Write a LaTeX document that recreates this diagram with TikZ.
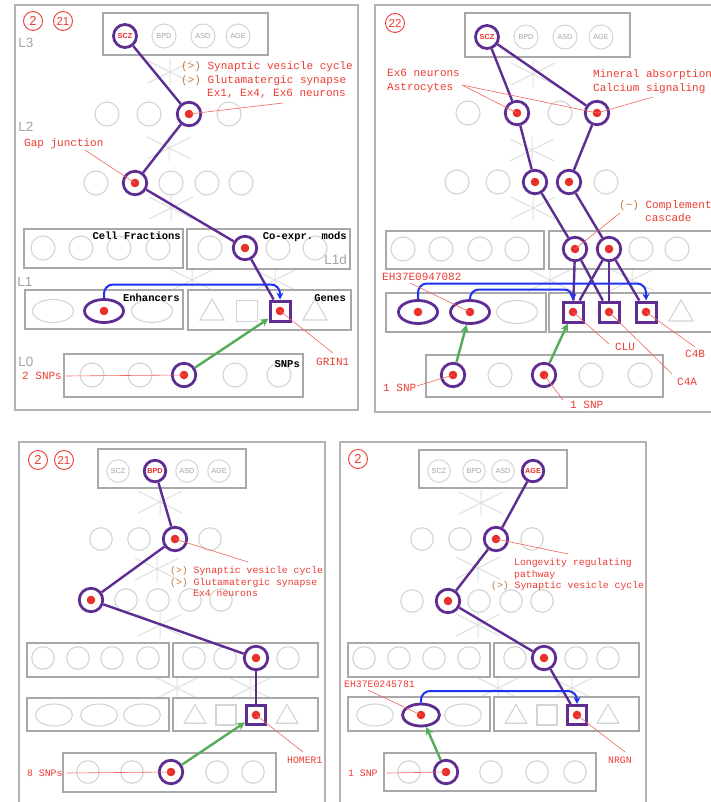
\documentclass[tikz,border=0pt]{standalone}
\usepackage{fontspec}
\usetikzlibrary{shapes.geometric,arrows.meta}
\newfontfamily\lmono{Liberation Mono}
\newfontfamily\lsans{Liberation Sans}
\definecolor{vio}{HTML}{5E2D91}
\definecolor{dotred}{HTML}{E8302A}
\definecolor{tred}{HTML}{EE3B33}
\definecolor{lred}{HTML}{F2665F}
\definecolor{orng}{HTML}{C77A3E}
\definecolor{cgray}{HTML}{D4D4D4}
\definecolor{bgray}{HTML}{A8A8A8}
\definecolor{fgray}{HTML}{B4B4B4}
\definecolor{tgray}{HTML}{A4A4A4}
\definecolor{xgray}{HTML}{E0E0E0}
\definecolor{bblue}{HTML}{1E32F0}
\definecolor{ggreen}{HTML}{55AD5A}
\tikzset{
 fr/.style={draw=fgray, line width=1.5pt},
 bx/.style={draw=bgray, line width=1.7pt, fill=white},
 xl/.style={draw=xgray, line width=1pt},
 ast/.pic={\draw[xl] (-22,-11)--(22,11) (-22,11)--(22,-11) (0,-13)--(0,13);},
 gc/.style={circle, draw=cgray, line width=1.1pt, minimum size=24pt, inner sep=0pt},
 dotp/.style={path picture={\fill[dotred] (path picture bounding box.center) circle (4.3pt);}},
 hc/.style={circle, draw=vio, line width=2.8pt, minimum size=23.5pt, inner sep=0pt, dotp},
 ge/.style={ellipse, draw=cgray, line width=1.1pt, minimum width=41pt, minimum height=23pt, inner sep=0pt},
 he/.style={ellipse, draw=vio, line width=2.8pt, minimum width=39pt, minimum height=23pt, inner sep=0pt, dotp},
 gs/.style={rectangle, draw=cgray, line width=1.1pt, minimum size=21pt, inner sep=0pt},
 hs/.style={rectangle, draw=vio, line width=3pt, minimum size=20pt, inner sep=0pt, dotp},
 gt/.style={regular polygon, regular polygon sides=3, draw=cgray, line width=1.1pt, minimum size=28pt, inner sep=0pt},
 tc/.style={circle, draw=cgray, line width=1pt, minimum size=24pt, inner sep=0pt, text=tgray, font=\lsans\fontsize{7.3}{8}\selectfont},
 tch/.style={circle, draw=vio, line width=2.8pt, minimum size=23pt, inner sep=0pt, text=dotred, font=\lsans\bfseries\fontsize{7.3}{8}\selectfont},
 pl/.style={draw=vio, line width=2.4pt},
 bl/.style={draw=bblue, line width=2pt, rounded corners=9pt, -{Stealth[length=7pt,width=7pt,inset=2.5pt]}},
 gl/.style={draw=ggreen, line width=2.4pt, -{Stealth[length=8pt,width=8pt,inset=2.5pt]}},
 an/.style={draw=lred, line width=0.6pt},
 lab/.style={anchor=base west, inner sep=0pt, text=tred, font=\lmono\fontsize{11}{13}\selectfont},
 labs/.style={anchor=base west, inner sep=0pt, text=tred, font=\lmono\fontsize{9.8}{11}\selectfont},
 hdr/.style={anchor=base east, inner sep=0pt, font=\lmono\bfseries\fontsize{10.5}{12}\selectfont},
 lvl/.style={inner sep=0pt, text=tgray, font=\lsans\fontsize{13.5}{14}\selectfont},
 cn/.style={circle, draw=tred, line width=0.9pt, minimum size=19pt, inner sep=0pt, text=tred, font=\lsans\fontsize{13}{13}\selectfont},
 cnn/.style={cn, font=\lsans\fontsize{11.5}{12}\selectfont},
 small/.style={gc/.append style={minimum size=22.5pt}, tc/.append style={minimum size=22.5pt}, tch/.append style={minimum size=21.5pt},
   ge/.append style={minimum width=37pt, minimum height=22pt}, he/.append style={minimum width=37pt, minimum height=22pt},
   gt/.append style={minimum size=25pt}, gs/.append style={minimum size=20pt}, hs/.append style={minimum size=19pt}},
}
\begin{document}
\begin{tikzpicture}[x=1pt,y=-1pt]
\useasboundingbox (0,0) rectangle (711,802);
\clip (0,0) rectangle (711,802);
\fill[white] (0,0) rectangle (711,802);

% ================= Panel 1 =================
\draw[fr] (15,5) rectangle (358,410);
\node[cn] (a-n2) at (33,21) {2};
\node[cnn] (a-n21) at (63,21) {21};
\pic at (170,72) {ast}; \pic at (169,148) {ast}; \pic at (171,208) {ast};
\pic at (192,280) {ast}; \pic at (275,280) {ast};
\draw[bx] (103,13) rectangle (268,55);
\node[tch] (a-scz) at (125,36) {SCZ};
\node[tc] (a-bpd) at (164,36) {BPD};
\node[tc] (a-asd) at (203,36) {ASD};
\node[tc] (a-age) at (238,36) {AGE};
\node[lvl] (a-L3) at (26,43) {L3};
\node[gc] (a-u1) at (107,114) {};
\node[gc] (a-u2) at (149,114) {};
\node[hc] (a-u3) at (189,114) {};
\node[gc] (a-u4) at (229,114) {};
\node[lvl] (a-L2) at (26,127) {L2};
\node[gc] (a-l1) at (96,183) {};
\node[hc] (a-l2) at (135,183) {};
\node[gc] (a-l3) at (171,183) {};
\node[gc] (a-l4) at (207,183) {};
\node[gc] (a-l5) at (241,183) {};
\draw[bx] (24,229) rectangle (183,268);
\draw[bx] (187,229) rectangle (350,269);
\node[gc] (a-c1) at (43,248) {};
\node[gc] (a-c2) at (81,248) {};
\node[gc] (a-c3) at (119,248) {};
\node[gc] (a-c4) at (158,248) {};
\node[gc] (a-c5) at (210,248) {};
\node[hc] (a-c6) at (245,248) {};
\node[gc] (a-c7) at (278,248) {};
\node[gc] (a-c8) at (315,248) {};
\node[hdr] (a-h1) at (181,240) {Cell Fractions};
\node[hdr] (a-h2) at (347,240) {Co-expr. mods};
\node[lvl,anchor=east] (a-L1d) at (347,260) {L1d};
\node[lvl] (a-L1) at (25,282) {L1};
\draw[bx] (25,290) rectangle (183,329);
\draw[bx] (188,290) rectangle (351,330);
\node[ge] (a-e1) at (53,311) {};
\node[he] (a-e2) at (104,311) {};
\node[ge] (a-e3) at (152,311) {};
\node[gt] (a-g1) at (212,313) {};
\node[gs] (a-g2) at (247,311) {};
\node[hs] (a-g3) at (280,311) {};
\node[gt] (a-g4) at (315,313) {};
\node[hdr] (a-h3) at (180,301) {Enhancers};
\node[hdr] (a-h4) at (346,301) {Genes};
\node[lvl] (a-L0) at (26,362) {L0};
\draw[bx] (64,354) rectangle (303,397);
\node[gc] (a-s1) at (92,375) {};
\node[gc] (a-s2) at (140,375) {};
\node[hc] (a-s3) at (184,375) {};
\node[gc] (a-s4) at (235,375) {};
\node[gc] (a-s5) at (279,375) {};
\node[hdr] (a-h5) at (300,367) {SNPs};
\draw[pl] (a-scz) -- (a-u3);
\draw[pl] (a-u3) -- (a-l2);
\draw[pl] (a-l2) -- (a-c6);
\draw[pl] (a-c6) -- (a-g3);
\draw[bl] (a-e2.north) |- ([yshift=15pt]a-g3.north) -- (a-g3.north);
\draw[gl] (a-s3) -- (a-g3);
\node[lab] (a-t1) at (181,69.5) {\textcolor{orng}{(>)} Synaptic vesicle cycle};
\node[lab] (a-t2) at (181,83.5) {\textcolor{orng}{(>)} Glutamatergic synapse};
\node[lab] (a-t3) at (207,96.5) {Ex1, Ex4, Ex6 neurons};
\node[lab] (a-t4) at (24,146.5) {Gap junction};
\node[lab] (a-t5) at (22,379.5) {2 SNPs};
\node[lab] (a-t6) at (316,365.5) {GRIN1};
\coordinate (a-k1) at (283,103);
\coordinate (a-k2) at (85,150);
\coordinate (a-k3) at (66,376);
\coordinate (a-k4) at (333,353);
\draw[an] (a-u3.center) -- (a-k1);
\draw[an] (a-k2) -- (a-l2.center);
\draw[an] (a-k3) -- (a-s3.center);
\draw[an] (a-g3.center) -- (a-k4);

% ================= Panel 2 =================
\draw[fr] (375,5) rectangle (720,412);
\node[cnn] (b-n22) at (395,23) {22};
\pic at (533,74) {ast}; \pic at (532,150) {ast}; \pic at (533,208) {ast};
\pic at (550,280) {ast}; \pic at (632,280) {ast};
\draw[bx] (465,13) rectangle (630,57);
\node[tch] (b-scz) at (487,37) {SCZ};
\node[tc] (b-bpd) at (526,37) {BPD};
\node[tc] (b-asd) at (565,37) {ASD};
\node[tc] (b-age) at (601,37) {AGE};
\node[gc] (b-u1) at (468,113) {};
\node[hc] (b-u2) at (517,113) {};
\node[gc] (b-u3) at (560,113) {};
\node[hc] (b-u4) at (597,113) {};
\node[gc] (b-l1) at (457,182) {};
\node[gc] (b-l2) at (498,182) {};
\node[hc] (b-l3) at (535,182) {};
\node[hc] (b-l4) at (569,182) {};
\node[gc] (b-l5) at (606,182) {};
\draw[bx] (386,231) rectangle (544,269);
\draw[bx] (549,231) rectangle (720,269);
\node[gc] (b-c1) at (403,249) {};
\node[gc] (b-c2) at (441,249) {};
\node[gc] (b-c3) at (480,249) {};
\node[gc] (b-c4) at (517,249) {};
\node[hc] (b-c5) at (575,249) {};
\node[hc] (b-c6) at (609,249) {};
\node[gc] (b-c7) at (641,249) {};
\node[gc] (b-c8) at (677,249) {};
\draw[bx] (386,293) rectangle (546,332);
\draw[bx] (549,293) rectangle (720,332);
\node[he] (b-e1) at (418,312) {};
\node[he] (b-e2) at (470,312) {};
\node[ge] (b-e3) at (517,312) {};
\node[hs] (b-g1) at (573,312) {};
\node[hs] (b-g2) at (609,312) {};
\node[hs] (b-g3) at (646,312) {};
\node[gt] (b-g4) at (681,314) {};
\draw[bx] (426,355) rectangle (663,397);
\node[hc] (b-s1) at (453,375) {};
\node[gc] (b-s2) at (500,375) {};
\node[hc] (b-s3) at (544,375) {};
\node[gc] (b-s4) at (591,375) {};
\node[gc] (b-s5) at (640,375) {};
\draw[pl] (b-scz) -- (b-u2);
\draw[pl] (b-scz) -- (b-u4);
\draw[pl] (b-u2) -- (b-l3);
\draw[pl] (b-u4) -- (b-l4);
\draw[pl] (b-l3) -- (b-c5);
\draw[pl] (b-l4) -- (b-c6);
\draw[pl] (b-c5) -- (b-g1);
\draw[pl] (b-c5) -- (b-g2);
\draw[pl] (b-c6) -- (b-g1);
\draw[pl] (b-c6) -- (b-g2);
\draw[pl] (b-c6) -- (b-g3);
\draw[bl] (b-e1.north) |- ([yshift=17pt]b-g3.north) -- (b-g3.north);
\draw[bl] (b-e2.north) |- ([yshift=11pt]b-g1.north) -- (b-g1.north);
\draw[gl] (b-s1) -- (b-e2);
\draw[gl] (b-s3) -- (b-g1);
\node[lab] (b-t1) at (387,76.5) {Ex6 neurons};
\node[lab] (b-t2) at (387,90.5) {Astrocytes};
\node[lab] (b-t3) at (593,77.5) {Mineral absorption};
\node[lab] (b-t4) at (593,91.5) {Calcium signaling};
\node[lab] (b-t5) at (619,208.5) {\textcolor{orng}{(\textasciitilde)} Complement};
\node[lab] (b-t6) at (645,221.5) {cascade};
\node[lab] (b-t7) at (382,280.5) {EH37E0947082};
\node[lab] (b-t8) at (615,350.5) {CLU};
\node[lab] (b-t9) at (677,385.5) {C4A};
\node[lab] (b-t10) at (685,357.5) {C4B};
\node[lab] (b-t11) at (383,391.5) {1 SNP};
\node[lab] (b-t12) at (570,408.5) {1 SNP};
\coordinate (b-k1) at (462,85);
\coordinate (b-k2) at (653,97);
\coordinate (b-k3) at (620,213);
\coordinate (b-k4) at (410,283);
\coordinate (b-k5) at (609,344);
\coordinate (b-k6) at (672,374);
\coordinate (b-k7) at (695,347);
\coordinate (b-k8) at (417,386);
\coordinate (b-k9) at (563,400);
\draw[an] (b-k1) -- (b-u2.center);
\draw[an] (b-k1) -- (b-u4.center);
\draw[an] (b-k2) -- (b-u4.center);
\draw[an] (b-k3) -- (b-c5.center);
\draw[an] (b-k4) -- (b-e2.center);
\draw[an] (b-g1.center) -- (b-k5);
\draw[an] (b-g2.center) -- (b-k6);
\draw[an] (b-g3.center) -- (b-k7);
\draw[an] (b-k8) -- (b-s1.center);
\draw[an] (b-s3.center) -- (b-k9);

% ================= Panel 3 =================
\begin{scope}[small]
\draw[fr] (19,442) rectangle (325,810);
\node[cn] (c-n2) at (38,460) {2};
\node[cnn] (c-n21) at (64,460) {21};
\pic at (160,502) {ast}; \pic at (157,569) {ast}; \pic at (160,625) {ast};
\pic at (177,688) {ast}; \pic at (250,688) {ast};
\draw[bx] (98,449) rectangle (246,488);
\node[tc] (c-scz) at (118,471) {SCZ};
\node[tch] (c-bpd) at (155,471) {BPD};
\node[tc] (c-asd) at (187,471) {ASD};
\node[tc] (c-age) at (219,471) {AGE};
\node[gc] (c-u1) at (101,539) {};
\node[gc] (c-u2) at (139,539) {};
\node[hc] (c-u3) at (175,539) {};
\node[gc] (c-u4) at (210,539) {};
\node[hc] (c-l1) at (91,600) {};
\node[gc] (c-l2) at (126,600) {};
\node[gc] (c-l3) at (158,600) {};
\node[gc] (c-l4) at (190,600) {};
\node[gc] (c-l5) at (221,600) {};
\draw[bx] (27,643) rectangle (169,677);
\draw[bx] (173,643) rectangle (318,677);
\node[gc] (c-c1) at (43,658) {};
\node[gc] (c-c2) at (78,658) {};
\node[gc] (c-c3) at (112,658) {};
\node[gc] (c-c4) at (148,658) {};
\node[gc] (c-c5) at (194,658) {};
\node[gc] (c-c6) at (225,658) {};
\node[hc] (c-c7) at (256,658) {};
\node[gc] (c-c8) at (288,658) {};
\draw[bx] (27,698) rectangle (169,731);
\draw[bx] (173,698) rectangle (318,731);
\node[ge] (c-e1) at (54,715) {};
\node[ge] (c-e2) at (99,715) {};
\node[ge] (c-e3) at (142,715) {};
\node[gt] (c-g1) at (195,717) {};
\node[gs] (c-g2) at (226,715) {};
\node[hs] (c-g3) at (256,715) {};
\node[gt] (c-g4) at (287,717) {};
\draw[bx] (63,753) rectangle (276,792);
\node[gc] (c-s1) at (88,772) {};
\node[gc] (c-s2) at (132,772) {};
\node[hc] (c-s3) at (171,772) {};
\node[gc] (c-s4) at (217,772) {};
\node[gc] (c-s5) at (253,772) {};
\draw[pl] (c-bpd) -- (c-u3);
\draw[pl] (c-u3) -- (c-l1);
\draw[pl] (c-l1) -- (c-c7);
\draw[pl] (c-c7) -- (c-g3);
\draw[gl] (c-s3) -- (c-g3);
\node[labs] (c-t1) at (170,573) {\textcolor{orng}{(>)} Synaptic vesicle cycle};
\node[labs] (c-t2) at (170,585) {\textcolor{orng}{(>)} Glutamatergic synapse};
\node[labs] (c-t3) at (193,596) {Ex4 neurons};
\node[labs] (c-t4) at (287,763) {HOMER1};
\node[labs] (c-t5) at (27,776) {8 SNPs};
\coordinate (c-k1) at (248,562);
\coordinate (c-k2) at (303,752);
\coordinate (c-k3) at (67,773);
\draw[an] (c-u3.center) -- (c-k1);
\draw[an] (c-g3.center) -- (c-k2);
\draw[an] (c-k3) -- (c-s3.center);
\end{scope}

% ================= Panel 4 =================
\begin{scope}[small]
\draw[fr] (340,442) rectangle (646,810);
\node[cn] (d-n2) at (358,459) {2};
\pic at (481,503) {ast}; \pic at (478,568) {ast}; \pic at (478,625) {ast};
\pic at (498,688) {ast}; \pic at (572,688) {ast};
\draw[bx] (419,450) rectangle (567,488);
\node[tc] (d-scz) at (439,471) {SCZ};
\node[tc] (d-bpd) at (474,471) {BPD};
\node[tc] (d-asd) at (503,471) {ASD};
\node[tch] (d-age) at (533,471) {AGE};
\node[gc] (d-u1) at (422,539) {};
\node[gc] (d-u2) at (460,539) {};
\node[hc] (d-u3) at (496,539) {};
\node[gc] (d-u4) at (532,539) {};
\node[gc] (d-l1) at (412,601) {};
\node[hc] (d-l2) at (448,601) {};
\node[gc] (d-l3) at (479,601) {};
\node[gc] (d-l4) at (511,601) {};
\node[gc] (d-l5) at (542,601) {};
\draw[bx] (348,643) rectangle (490,677);
\draw[bx] (494,643) rectangle (639,677);
\node[gc] (d-c1) at (364,658) {};
\node[gc] (d-c2) at (399,658) {};
\node[gc] (d-c3) at (434,658) {};
\node[gc] (d-c4) at (469,658) {};
\node[gc] (d-c5) at (515,658) {};
\node[hc] (d-c6) at (544,658) {};
\node[gc] (d-c7) at (576,658) {};
\node[gc] (d-c8) at (608,658) {};
\draw[bx] (348,697) rectangle (490,731);
\draw[bx] (494,697) rectangle (639,731);
\node[ge] (d-e1) at (375,715) {};
\node[he] (d-e2) at (421,715) {};
\node[ge] (d-e3) at (463,715) {};
\node[gt] (d-g1) at (516,717) {};
\node[gs] (d-g2) at (547,715) {};
\node[hs] (d-g3) at (577,715) {};
\node[gt] (d-g4) at (608,717) {};
\draw[bx] (384,753) rectangle (596,791);
\node[gc] (d-s1) at (409,772) {};
\node[hc] (d-s2) at (446,772) {};
\node[gc] (d-s3) at (491,772) {};
\node[gc] (d-s4) at (537,772) {};
\node[gc] (d-s5) at (575,772) {};
\draw[pl] (d-age) -- (d-u3);
\draw[pl] (d-u3) -- (d-l2);
\draw[pl] (d-l2) -- (d-c6);
\draw[pl] (d-c6) -- (d-g3);
\draw[bl] (d-e2.north) |- ([yshift=13pt]d-g3.north) -- (d-g3.north);
\draw[gl] (d-s2) -- (d-e2);
\node[labs] (d-t1) at (514,565) {Longevity regulating};
\node[labs] (d-t2) at (514,577) {pathway};
\node[labs] (d-t3) at (491,588) {\textcolor{orng}{(>)} Synaptic vesicle cycle};
\node[labs] (d-t4) at (344,687) {EH37E0245781};
\node[labs] (d-t5) at (608,763) {NRGN};
\node[labs] (d-t6) at (348,776) {1 SNP};
\coordinate (d-k1) at (568,554);
\coordinate (d-k2) at (368,690);
\coordinate (d-k3) at (625,752);
\coordinate (d-k4) at (387,773);
\draw[an] (d-u3.center) -- (d-k1);
\draw[an] (d-k2) -- (d-e2.center);
\draw[an] (d-g3.center) -- (d-k3);
\draw[an] (d-k4) -- (d-s2.center);
\end{scope}
\end{tikzpicture}
\end{document}
